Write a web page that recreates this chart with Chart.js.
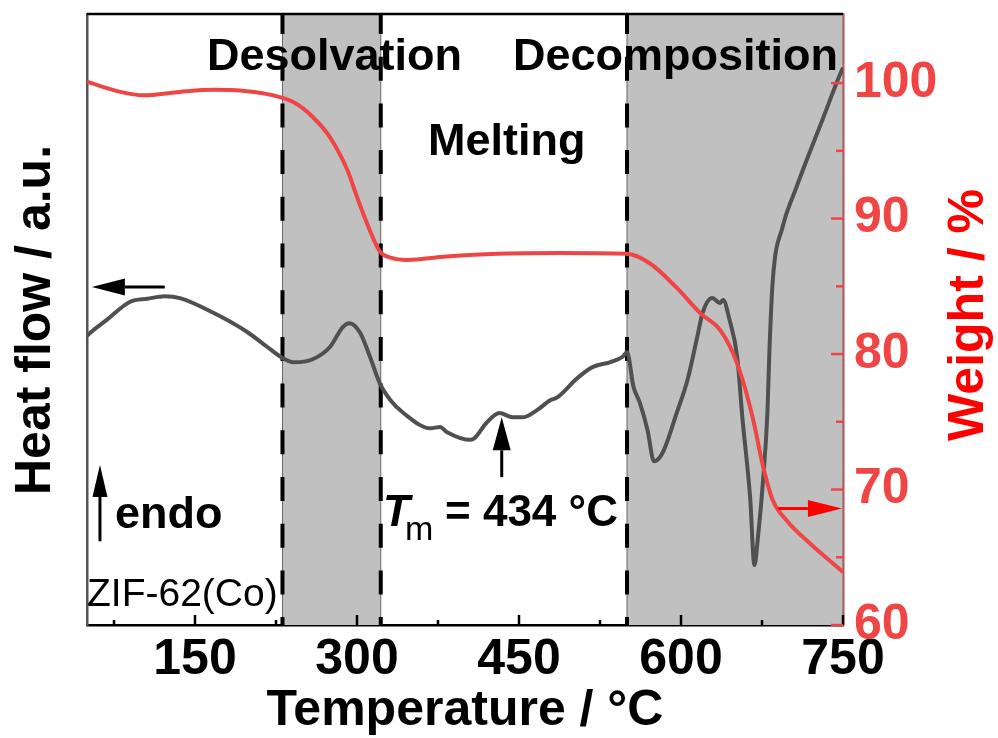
<!DOCTYPE html>
<html>
<head>
<meta charset="utf-8">
<script src="https://cdn.jsdelivr.net/npm/chart.js@4.4.1/dist/chart.umd.min.js"></script>
<style>
  html, body { margin: 0; padding: 0; background: #fff; }
  #wrap { width: 998px; height: 738px; }
</style>
</head>
<body>
<div id="wrap"><canvas id="myChart" width="998" height="738"></canvas></div>
<script>
// DSC heat flow (arbitrary units, 0-100 over the plot height)
const hfTemp = [50, 51, 68, 90, 106, 122, 136, 167, 198, 217, 231, 241, 259, 275, 287, 293, 303, 312, 321, 331, 343,
    368, 377, 383, 405, 409, 420, 432, 444, 454, 467, 479, 485, 504, 518, 534, 546, 550, 556, 562, 569, 575, 583,
    596, 606, 615, 620, 629, 636, 639, 645, 652, 657, 664, 668, 671, 676, 680, 682, 685, 694, 707, 719, 731, 747, 750];
const hfValue = [47.3, 47.5, 49.9, 52.9, 53.4, 53.8, 53.5, 51.1, 48.0, 45.5, 43.7, 43.0, 43.5, 45.5, 48.8, 49.4, 47.8, 43.9, 39.6, 36.8, 34.7,
    32.2, 32.4, 31.6, 30.3, 30.6, 33.1, 34.7, 34.0, 34.0, 35.2, 36.8, 37.2, 40.4, 42.2, 43.0, 43.9, 44.7, 39.0, 36.3, 31.9, 26.8, 28.2,
    34.7, 40.1, 47.1, 51.1, 53.5, 52.7, 53.2, 49.9, 43.9, 33.6, 20.9, 9.8, 13.9, 23.7, 34.7, 45.5, 56.5, 65.1, 71.7, 77.3, 82.7, 90.0, 91.2];

// TGA weight (%)
const wtTemp = [50, 81, 102, 136, 167, 198, 222, 241, 259, 275, 291, 300, 309, 321, 332, 346, 383, 430, 488, 550,
    571, 596, 618, 636, 648, 657, 667, 676, 685, 698, 719, 750];
const wtValue = [100.1, 99.35, 99.1, 99.35, 99.5, 99.4, 99.1, 98.6, 97.5, 96.0, 93.6, 91.6, 89.7, 87.6, 87.1, 86.95, 87.2, 87.4, 87.45, 87.4,
    86.7, 84.9, 83.0, 81.8, 80.1, 78.1, 75.1, 71.7, 69.2, 67.7, 66.05, 63.9];

const xTicks = [75, 150, 225, 300, 375, 450, 525, 600, 675, 750];
const xLabels = [150, 300, 450, 600, 750];
const wtTicks = [60, 65, 70, 75, 80, 85, 90, 95, 100];
const wtLabels = [60, 70, 80, 90, 100];

// shaded stages and dashed boundaries (°C)
const regions = [[231, 322], [550, 750]];
const boundaries = [231, 322, 550];

const FONT = '"Liberation Sans", Arial, sans-serif';
const RED = '#f04545';

function arrow(ctx, x0, y0, x1, y1, len, half, color, lw) {
    const ang = Math.atan2(y1 - y0, x1 - x0);
    const bx = x1 - len * Math.cos(ang), by = y1 - len * Math.sin(ang);
    ctx.strokeStyle = color; ctx.fillStyle = color; ctx.lineWidth = lw;
    ctx.beginPath(); ctx.moveTo(x0, y0); ctx.lineTo(bx, by); ctx.stroke();
    ctx.beginPath();
    ctx.moveTo(x1, y1);
    ctx.lineTo(bx + half * Math.sin(ang), by - half * Math.cos(ang));
    ctx.lineTo(bx - half * Math.sin(ang), by + half * Math.cos(ang));
    ctx.closePath(); ctx.fill();
}

const decor = {
    id: 'decor',
    beforeDatasetsDraw(chart) {
        const {ctx, chartArea: a, scales: {x}} = chart;
        ctx.save();
        regions.forEach(([t0, t1]) => {
            const x0 = x.getPixelForValue(t0), x1 = x.getPixelForValue(t1);
            ctx.fillStyle = '#c0c0c0';
            ctx.fillRect(x0, a.top, x1 - x0, a.bottom - a.top);
            ctx.strokeStyle = '#666'; ctx.lineWidth = 1;
            [x0, x1].forEach(px => {
                ctx.beginPath(); ctx.moveTo(px, a.top); ctx.lineTo(px, a.bottom); ctx.stroke();
            });
        });
        ctx.strokeStyle = '#000'; ctx.lineWidth = 4;
        ctx.setLineDash([24, 22.7]); ctx.lineDashOffset = 4;
        boundaries.forEach(t => {
            const px = x.getPixelForValue(t);
            ctx.beginPath(); ctx.moveTo(px, a.top); ctx.lineTo(px, a.bottom); ctx.stroke();
        });
        ctx.restore();
    },
    afterDraw(chart) {
        const {ctx, chartArea: a, scales: {x, y, y1}} = chart;
        ctx.save();
        // top frame
        ctx.strokeStyle = '#000'; ctx.lineWidth = 2.5;
        ctx.beginPath(); ctx.moveTo(a.left, a.top); ctx.lineTo(a.right, a.top); ctx.stroke();
        // inward ticks
        ctx.lineWidth = 2.5;
        xTicks.forEach(v => {
            const px = x.getPixelForValue(v);
            const len = xLabels.includes(v) ? 10 : 5;
            ctx.beginPath(); ctx.moveTo(px, a.bottom); ctx.lineTo(px, a.bottom - len); ctx.stroke();
        });
        ctx.strokeStyle = RED;
        wtTicks.forEach(v => {
            const py = y1.getPixelForValue(v);
            const len = wtLabels.includes(v) ? 12 : 7;
            ctx.beginPath(); ctx.moveTo(a.right, py); ctx.lineTo(a.right - len, py); ctx.stroke();
        });

        // arrows
        arrow(ctx, x.getPixelForValue(122), y.getPixelForValue(55.3), x.getPixelForValue(54.5), y.getPixelForValue(55.3), 33, 8.5, '#000', 3);
        arrow(ctx, x.getPixelForValue(690), y1.getPixelForValue(68.6), x.getPixelForValue(749), y1.getPixelForValue(68.6), 34, 8.5, '#f00', 3);
        arrow(ctx, x.getPixelForValue(62), y.getPixelForValue(13.7), x.getPixelForValue(62), y.getPixelForValue(26.2), 32, 7.5, '#000', 3);
        arrow(ctx, x.getPixelForValue(434), y.getPixelForValue(24.2), x.getPixelForValue(434), y.getPixelForValue(34.0), 33, 9, '#000', 3);

        // labels
        ctx.fillStyle = '#000';
        ctx.textBaseline = 'alphabetic'; ctx.textAlign = 'left';
        ctx.font = 'bold 45px ' + FONT;
        ctx.fillText('Desolvation', 207, 70);
        ctx.fillText('Decomposition', 513, 70);
        ctx.fillText('Melting', 428, 155);
        ctx.fillText('endo', 115, 528);
        ctx.font = '39px ' + FONT;
        ctx.fillText('ZIF-62(Co)', 87, 606);
        ctx.font = 'italic bold 44px ' + FONT;
        ctx.fillText('T', 383, 526);
        ctx.font = '34px ' + FONT;
        ctx.fillText('m', 405, 540);
        ctx.font = 'bold 44px ' + FONT;
        ctx.fillText('= 434 °C', 445, 526);

        // y titles (read bottom to top)
        ctx.font = 'bold 50px ' + FONT;
        ctx.textAlign = 'center';
        ctx.save();
        ctx.translate(50, 320); ctx.rotate(-Math.PI / 2);
        ctx.fillStyle = '#000'; ctx.fillText('Heat flow / a.u.', 0, 0);
        ctx.restore();
        ctx.save();
        ctx.translate(983, 315); ctx.rotate(-Math.PI / 2);
        ctx.fillStyle = '#f00'; ctx.fillText('Weight / %', 0, 0);
        ctx.restore();
        ctx.restore();
    }
};

const ctx1 = document.getElementById('myChart').getContext('2d');
const chart = new Chart(ctx1, {
    type: 'line',
    data: {
        datasets: [
            {
                label: 'Weight',
                data: wtTemp.map((t, i) => ({x: t, y: wtValue[i]})),
                yAxisID: 'y1',
                borderColor: RED,
                borderWidth: 4,
                pointRadius: 0,
                cubicInterpolationMode: 'monotone',
            },
            {
                label: 'Heat flow',
                data: hfTemp.map((t, i) => ({x: t, y: hfValue[i]})),
                yAxisID: 'y',
                borderColor: '#505050',
                borderWidth: 4,
                pointRadius: 0,
                cubicInterpolationMode: 'monotone',
            }
        ]
    },
    options: {
        responsive: false,
        animation: false,
        devicePixelRatio: 1,
        layout: { padding: { top: 14, left: 0, right: 0, bottom: 0 } },
        plugins: { legend: { display: false }, tooltip: { enabled: false } },
        scales: {
            x: {
                type: 'linear',
                min: 50,
                max: 750,
                afterBuildTicks: (s) => { s.ticks = xTicks.map(v => ({value: v})); },
                afterFit: (s) => { s.height = 113; s.paddingLeft = 0; s.paddingRight = 0; },
                grid: { display: false, drawTicks: false },
                border: { display: true, color: '#000', width: 2.5 },
                ticks: {
                    autoSkip: false,
                    maxRotation: 0,
                    padding: 5,
                    color: '#000',
                    font: { family: FONT, size: 50, weight: 'bold' },
                    callback: (v) => xLabels.includes(v) ? String(v) : ''
                },
                title: {
                    display: true,
                    text: 'Temperature / °C',
                    color: '#000',
                    font: { family: FONT, size: 50, weight: 'bold', lineHeight: 1 },
                    padding: { top: 0, bottom: 2 }
                }
            },
            y: {
                position: 'left',
                min: 0,
                max: 100,
                afterFit: (s) => { s.width = 87; s.paddingTop = 0; s.paddingBottom = 0; },
                grid: { display: false, drawTicks: false },
                border: { display: true, color: '#555', width: 2.5 },
                ticks: { display: false }
            },
            y1: {
                position: 'right',
                min: 60,
                max: 105.1,
                afterBuildTicks: (s) => { s.ticks = wtTicks.map(v => ({value: v})); },
                afterFit: (s) => { s.width = 155; s.paddingTop = 0; s.paddingBottom = 0; },
                grid: { display: false, drawTicks: false },
                border: { display: true, color: RED, width: 2.5 },
                ticks: {
                    autoSkip: false,
                    padding: 11,
                    color: RED,
                    font: { family: FONT, size: 50, weight: 'bold' },
                    callback: (v) => wtLabels.includes(v) ? String(v) : ''
                }
            }
        }
    },
    plugins: [decor]
});
</script>
</body>
</html>
